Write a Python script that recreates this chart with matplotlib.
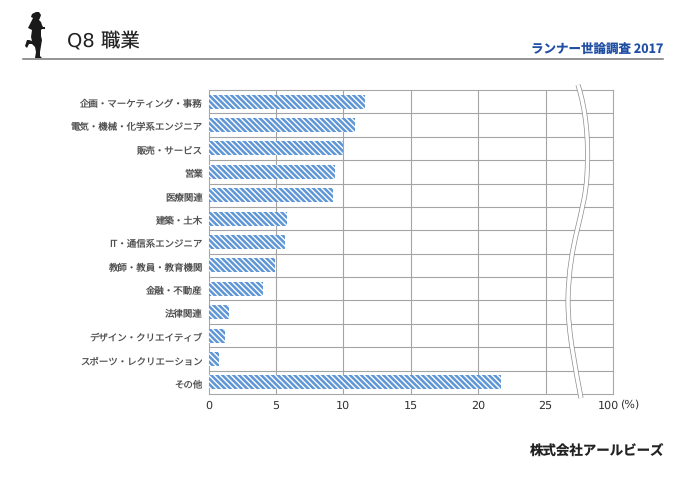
import matplotlib
matplotlib.use('Agg')
import matplotlib.pyplot as plt
from matplotlib.patches import PathPatch, Polygon
from matplotlib.path import Path
from matplotlib.transforms import Affine2D, ScaledTranslation

plt.rcParams['font.family'] = ['DejaVu Sans', 'Noto Sans CJK JP']
plt.rcParams['hatch.linewidth'] = 1.0
plt.rcParams['text.hinting'] = 'no_hinting'

W, H = 688, 487
JP = ['Noto Sans CJK JP', 'DejaVu Sans']

# data
categories = ['企画・マーケティング・事務', '電気・機械・化学系エンジニア', '販売・サービス', '営業', '医療関連',
              '建築・土木', 'IT・通信系エンジニア', '教師・教員・教育機関', '金融・不動産', '法律関連',
              'デザイン・クリエイティブ', 'スポーツ・レクリエーション', 'その他']
values = [11.6, 10.85, 10.0, 9.35, 9.2, 5.8, 5.7, 4.95, 4.05, 1.55, 1.25, 0.75, 21.7]
x_ticks = [0, 5, 10, 15, 20, 25, 30]
x_labels = ['0', '5', '10', '15', '20', '25', '100']

fig = plt.figure(figsize=(W / 100, H / 100), dpi=100)
ax = fig.add_axes([208.5 / W, 1 - 394 / H, (613 - 208.5) / W, (394 - 90) / H])

# transform for the decorations, given in image pixels
px = Affine2D().scale(1 / W, -1 / H).translate(0, 1) + fig.transFigure

ypos = list(range(len(categories)))
ax.barh(ypos, values, height=0.6, color='#5f96d6', edgecolor='white', hatch='\\' * 6, linewidth=0, zorder=3)

ax.set_xlim(0, 30)
ax.set_ylim(len(categories) - 0.5, -0.5)
ax.set_xticks(x_ticks)
ax.set_xticklabels(x_labels, fontsize=8, color='#333333')
ax.set_yticks(ypos)
ax.set_yticklabels(categories, fontsize=6.8, color='#505050', family=JP)
ax.tick_params(axis='both', length=0)
ax.tick_params(axis='x', pad=5)
ax.tick_params(axis='y', pad=4)

# labels sit slightly lower than the row centres
for lab in ax.get_yticklabels():
    lab.set_transform(lab.get_transform() + ScaledTranslation(0, -1.5 / 100, fig.dpi_scale_trans))
last = ax.get_xticklabels()[-1]
last.set_transform(last.get_transform() + ScaledTranslation(-5 / 100, 0, fig.dpi_scale_trans))

for x in x_ticks[1:-1]:
    ax.axvline(x, color='#a4a4a4', lw=0.8, zorder=1)
for y in ypos[1:]:
    ax.axhline(y - 0.5, color='#a4a4a4', lw=0.8, zorder=1)
for s in ax.spines.values():
    s.set_color('#a8a8a8')
    s.set_linewidth(0.8)

fig.text(620 / W, 1 - 405 / H, '(%)', fontsize=8, color='#333333', ha='left', va='center')

# axis break
codes = [Path.MOVETO, Path.CURVE4, Path.CURVE4, Path.CURVE4, Path.CURVE4, Path.CURVE4, Path.CURVE4,
         Path.CURVE4, Path.CURVE4, Path.CURVE4]
verts = [(578, 85), (586, 110), (589, 140), (587, 175), (585, 215), (569, 240), (568, 300),
         (568, 335), (576, 370), (581, 398)]
brk = Path(verts, codes)
fig.add_artist(PathPatch(brk, fc='none', ec='#8c8c8c', lw=3.6, transform=px, capstyle='butt'))
fig.add_artist(PathPatch(brk, fc='none', ec='white', lw=2.6, transform=px, capstyle='butt'))

# header
fig.add_artist(plt.Line2D([23 / W, 663 / W], [1 - 59 / H, 1 - 59 / H], color='#777777', lw=1.1))
fig.text(67 / W, 1 - 41 / H, 'Q8 職業', fontsize=14, color='#222222', va='center', ha='left')
fig.text(663 / W, 1 - 50 / H, 'ランナー世論調査 2017', fontsize=9, color='#1f4ea3', fontweight='bold',
         va='center', ha='right', family=JP)
fig.text(664 / W, 1 - 452 / H, '株式会社アールビーズ', fontsize=9.7, color='#222222', fontweight='bold',
         va='center', ha='right', family=JP)

# runner silhouette
runner = [(36, 12), (39, 12), (41, 15), (40, 18), (39, 20), (41, 22), (42, 25), (43, 27), (45, 27), (45, 29),
          (42, 29), (41, 30), (41, 36), (42, 40), (41, 46), (40, 52), (40, 56), (42, 58), (35, 58), (36, 52),
          (35, 47), (32, 44), (29, 44), (27, 48), (25, 46), (27, 40), (29, 40), (32, 41), (31, 37), (32, 30),
          (30, 29), (28, 28), (30, 24), (32, 20), (33, 18), (31, 17), (32, 14)]
fig.add_artist(Polygon(runner, closed=True, fc='#1a1a1a', ec='none', transform=px))

fig.savefig('out.png', dpi=100)
